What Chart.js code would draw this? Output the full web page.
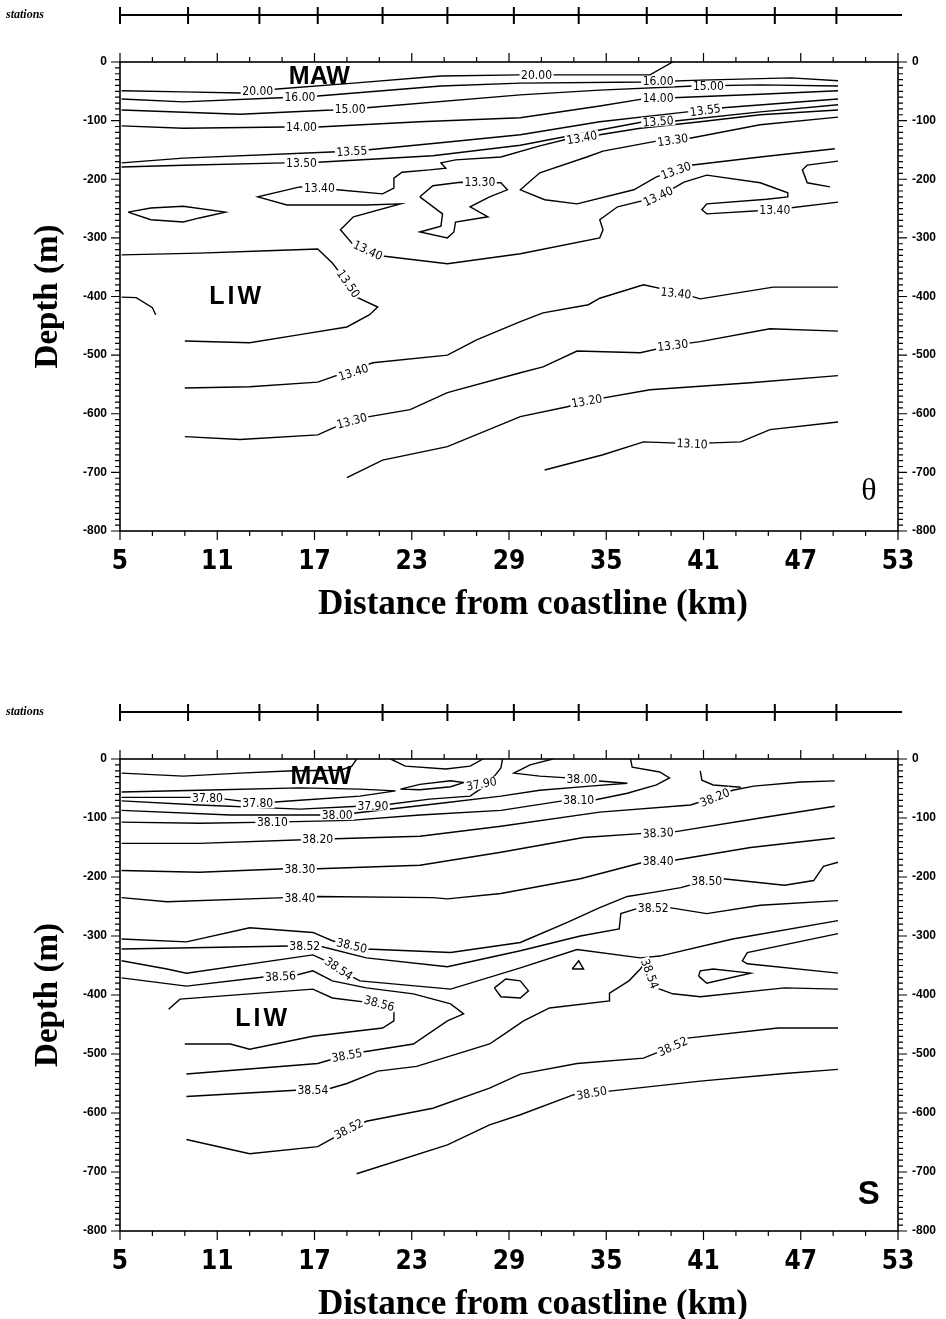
<!DOCTYPE html>
<html>
<head>
<meta charset="utf-8">
<script src="https://cdn.jsdelivr.net/npm/chart.js@4.4.1/dist/chart.umd.min.js"></script>
<style>
  html, body { margin: 0; padding: 0; background: #fff; }
  #wrap { position: relative; width: 946px; height: 1319px; }
  canvas { position: absolute; left: 0; }
</style>
</head>
<body>
<div id="wrap">
  <canvas id="thetaChart" width="946" height="660" style="top:0"></canvas>
  <canvas id="salChart" width="946" height="659" style="top:660px"></canvas>
</div>
<script>
// axis ticks and station positions (km from coastline, depth in m)
const kmTicks = [5, 11, 17, 23, 29, 35, 41, 47, 53];
const depthTicks = [0, -100, -200, -300, -400, -500, -600, -700, -800];
const stations = [5, 9.2, 13.6, 17.2, 21.2, 25.2, 29.3, 33.3, 37.5, 41.2, 45.4, 49.2];

// ---- potential temperature (theta) contours, [km, depth] ----
const th_20_00 = [[5.1,-49],[8.9,-51],[12.4,-53],[14.7,-46],[19.4,-36],[24.8,-24],[29.7,-22],[31.7,-22],[37.7,-22],[39.1,0]];
const th_16_00 = [[5.1,-63],[8.9,-68],[14.9,-61],[17.2,-58],[24.8,-41],[29.7,-36],[37.4,-34],[40.8,-31],[46.4,-27],[49.3,-32]];
const th_15_00 = [[5.1,-82],[12.4,-89],[18.1,-82],[20.2,-78],[29.7,-56],[34.6,-48],[40.4,-41],[44.5,-39],[49.3,-41]];
const th_14_00 = [[5.1,-109],[8.9,-113],[15.2,-111],[17.2,-111],[23.5,-102],[29.7,-95],[34.6,-75],[37.3,-63],[39.1,-61],[44.5,-55],[49.3,-49]];
const th_13_55 = [[5.1,-172],[8.9,-164],[18.4,-153],[20.2,-150],[25.4,-136],[29.7,-124],[34.6,-102],[40.0,-85],[42.2,-78],[49.3,-63]];
const th_13_50 = [[5.1,-179],[8.9,-176],[15.2,-172],[17.2,-171],[24.3,-160],[29.7,-142],[34.6,-116],[37.3,-102],[39.1,-101],[44.5,-85],[49.3,-73]];
const th_13_40a = [[49.3,-82],[44.5,-90],[40.8,-102],[37.1,-113],[34.6,-124],[32.8,-130],[30.9,-143],[28.5,-162],[25.7,-167],[24.8,-172],[25.1,-181],[24.1,-184],[22.4,-188],[21.9,-198],[21.9,-215],[21.2,-225],[18.4,-218],[16.1,-213],[13.5,-230],[15.3,-244],[20.2,-244],[22.3,-242],[19.4,-264],[18.6,-286],[19.4,-312],[21.2,-331],[25.2,-344],[29.7,-327],[34.6,-300],[34.8,-286],[34.6,-269],[35.7,-247],[38.2,-230],[39.8,-205],[41.2,-193],[44.5,-206],[46.2,-223],[46.2,-230],[44.9,-234],[41.2,-242],[40.9,-252],[41.2,-259],[45.4,-252],[49.3,-239]];
const th_13_30a = [[49.3,-94],[44.5,-107],[40.0,-131],[38.1,-135],[34.8,-152],[33.8,-162],[30.9,-189],[29.7,-218],[31.2,-235],[33.2,-242],[36.7,-218],[38.1,-196],[40.2,-176],[44.5,-162],[49.1,-148]];
const th_13_30patch = [[23.5,-230],[24.3,-211],[26.0,-205],[28.5,-206],[28.9,-218],[27.8,-230],[26.6,-247],[27.7,-264],[25.7,-273],[25.6,-290],[25.2,-300],[23.5,-290],[24.8,-280],[24.9,-259],[23.5,-230]];
const th_lens = [[5.5,-256],[6.9,-249],[8.9,-246],[11.5,-256],[9.9,-266],[8.9,-273],[6.9,-269],[5.5,-256]];
const th_bracket = [[49.3,-169],[47.4,-176],[47.1,-184],[47.4,-206],[48.8,-213]];
const th_13_50liw = [[5.1,-329],[9.9,-326],[14.1,-322],[17.2,-319],[18.1,-343],[19.0,-375],[19.6,-401],[20.9,-418],[20.4,-431],[19.0,-452],[16.1,-465],[13.0,-479],[9.0,-476]];
const th_arc = [[5.1,-401],[6.0,-402],[7.0,-419],[7.2,-431]];
const th_13_40b = [[9.0,-556],[13.0,-554],[17.2,-546],[20.6,-513],[25.2,-500],[27.0,-474],[29.7,-443],[31.1,-428],[33.9,-414],[34.6,-403],[37.3,-380],[39.3,-392],[40.8,-404],[45.3,-384],[49.3,-384]];
const th_13_30b = [[9.0,-639],[12.4,-644],[17.2,-636],[19.3,-610],[22.9,-593],[25.2,-564],[29.7,-530],[31.1,-520],[33.2,-493],[37.1,-496],[39.2,-483],[40.8,-477],[45.1,-455],[49.3,-459]];
const th_13_20 = [[19.0,-709],[21.2,-679],[25.2,-656],[29.7,-605],[32.6,-588],[33.8,-578],[37.7,-559],[43.9,-547],[49.3,-535]];
const th_13_10 = [[31.2,-696],[34.8,-670],[37.3,-648],[40.2,-651],[43.3,-648],[45.1,-627],[49.3,-614]];

const thetaLines = [th_20_00, th_16_00, th_15_00, th_14_00, th_13_55, th_13_50, th_13_40a, th_13_30a,
  th_13_30patch, th_lens, th_bracket, th_13_50liw, th_arc, th_13_40b, th_13_30b, th_13_20, th_13_10];

// [text, km, depth, angle]
const thetaLabels = [
  ["20.00",13.5,-50,0],["20.00",30.7,-22,0],["16.00",16.1,-60,0],["16.00",38.2,-33,0],
  ["15.00",19.2,-80,0],["15.00",41.3,-41,0],["14.00",16.2,-111,0],["14.00",38.2,-62,0],
  ["13.55",19.3,-152,-4],["13.55",41.1,-82,-8],["13.50",16.2,-172,0],["13.50",38.2,-101,-4],
  ["13.40",17.3,-215,0],["13.30",27.2,-205,0],["13.40",33.5,-129,-10],["13.30",39.1,-133,-8],
  ["13.30",39.3,-185,-20],["13.40",38.2,-229,-25],["13.40",45.4,-253,0],["13.40",20.3,-321,25],
  ["13.50",19.1,-378,55],["13.40",19.4,-529,-18],["13.30",19.3,-612,-15],["13.40",39.3,-394,6],
  ["13.30",39.1,-483,-6],["13.20",33.8,-578,-10],["13.10",40.3,-651,3]
];
const thetaNotes = [["MAW",17.3,-26,"mass"],["LIW",12.2,-401,"mass"],["\u03b8",51.2,-733,"sym"]];

// ---- salinity contours, [km, depth] ----
const s_u1 = [[5.1,-24],[8.9,-29],[12.4,-24],[15.7,-20],[18.6,-19],[19.3,-12],[19.6,0]];
const s_u2 = [[21.7,0],[22.6,-12],[25.1,-17],[26.6,-12],[27.4,0]];
const s_37_80 = [[5.1,-56],[9.9,-53],[16.1,-49],[19.8,-51],[22.0,-54],[19.8,-63],[16.1,-70],[13.5,-75],[11.5,-68],[9.9,-65],[5.1,-65]];
const s_lens = [[22.3,-51],[23.5,-43],[25.4,-37],[26.2,-40],[25.4,-47],[23.5,-52],[22.3,-51]];
const s_37_90 = [[5.1,-71],[9.9,-78],[16.1,-85],[19.7,-80],[21.5,-77],[24.1,-68],[26.6,-63],[27.5,-46],[28.1,-29],[28.5,-15],[28.6,0]];
const s_38_00 = [[5.1,-87],[11.8,-95],[18.4,-95],[19.4,-92],[24.8,-75],[28.5,-63],[30.9,-53],[34.0,-46],[36.3,-41],[34.0,-36],[32.6,-32],[30.9,-29],[29.3,-24],[30.3,-10],[31.7,0]];
const s_38_10 = [[5.1,-107],[9.9,-109],[14.4,-107],[19.2,-104],[23.5,-95],[28.5,-87],[32.3,-71],[34.2,-70],[36.3,-58],[38.1,-44],[38.9,-32],[38.3,-22],[36.6,-14],[36.5,0]];
const s_38_20 = [[5.1,-143],[9.9,-143],[17.2,-136],[23.5,-131],[28.5,-114],[34.6,-90],[40.2,-78],[41.7,-65],[42.8,-53],[44.1,-46],[47.0,-39],[49.1,-37]];
const s_hook = [[40.8,-20],[40.9,-36],[41.6,-44],[43.3,-48]];
const s_38_30 = [[5.1,-189],[9.9,-192],[15.2,-186],[17.2,-186],[23.5,-180],[28.5,-158],[33.6,-133],[37.3,-126],[39.1,-124],[44.5,-100],[49.1,-80]];
const s_38_40 = [[5.1,-235],[7.9,-242],[15.2,-235],[17.2,-233],[24.3,-235],[25.2,-237],[28.5,-228],[33.4,-203],[37.3,-175],[39.1,-172],[43.9,-150],[49.1,-134]];
const s_38_50a = [[5.1,-305],[9.1,-310],[13.0,-286],[16.9,-294],[18.1,-308],[20.2,-322],[25.4,-328],[29.7,-311],[32.6,-277],[34.6,-252],[36.3,-233],[37.9,-226],[39.6,-218],[41.2,-206],[42.2,-203],[46.0,-214],[47.8,-206],[48.4,-182],[49.3,-175]];
const s_38_52a = [[5.1,-322],[15.5,-317],[17.3,-317],[20.2,-337],[25.2,-352],[29.7,-325],[33.4,-300],[35.8,-288],[35.9,-262],[37.1,-252],[38.9,-252],[41.2,-262],[44.5,-248],[49.3,-240]];
const s_38_54a = [[5.1,-342],[7.9,-356],[9.1,-363],[16.9,-332],[18.0,-346],[18.9,-363],[19.8,-376],[25.4,-390],[29.7,-354],[33.2,-323],[37.1,-337],[38.3,-334],[42.8,-305],[49.3,-274]];
const s_38_56 = [[5.1,-371],[9.1,-385],[14.0,-369],[15.9,-366],[16.9,-359],[18.1,-376],[20.2,-388],[23.1,-398],[25.4,-415],[26.2,-432],[25.2,-444],[23.1,-483],[19.2,-500],[17.2,-516],[9.1,-534]];
const s_liw = [[8.0,-424],[8.7,-407],[16.9,-390],[18.1,-405],[21.0,-415],[21.9,-424],[21.9,-444],[21.2,-456],[16.9,-470],[13.0,-492],[11.8,-483],[9.0,-483]];
const s_38_54b = [[9.1,-572],[18.0,-558],[19.0,-550],[20.9,-529],[23.3,-521],[27.8,-483],[28.5,-470],[29.9,-444],[31.5,-422],[35.2,-410],[35.2,-397],[36.4,-376],[37.1,-356],[37.4,-346],[37.7,-364],[38.1,-388],[39.1,-398],[40.8,-403],[46.0,-388],[49.3,-390]];
const s_38_52b = [[9.1,-645],[13.0,-669],[17.2,-657],[19.1,-628],[20.2,-614],[24.3,-592],[27.8,-558],[29.7,-534],[33.2,-516],[37.3,-507],[39.1,-487],[40.0,-473],[45.6,-456],[49.3,-456]];
const s_38_50b = [[19.6,-703],[25.2,-654],[27.8,-620],[29.7,-603],[33.0,-569],[35.2,-563],[40.8,-546],[46.0,-533],[49.3,-526]];
const s_loop = [[28.1,-388],[28.8,-373],[29.7,-376],[30.2,-393],[29.7,-405],[28.5,-403],[28.1,-388]];
const s_tri = [[32.9,-356],[33.3,-342],[33.6,-356],[32.9,-356]];
const s_lens2 = [[40.7,-368],[40.8,-359],[41.6,-356],[43.9,-363],[41.2,-380],[40.7,-368]];
const s_tongue = [[49.3,-296],[43.7,-328],[43.4,-342],[43.7,-347],[49.3,-363]];

const salLines = [s_u1, s_u2, s_37_80, s_lens, s_37_90, s_38_00, s_38_10, s_38_20, s_hook, s_38_30, s_38_40,
  s_38_50a, s_38_52a, s_38_54a, s_38_56, s_liw, s_38_54b, s_38_52b, s_38_50b, s_loop, s_tri, s_lens2, s_tongue];

const salLabels = [
  ["37.80",10.4,-66,0],["37.80",13.5,-75,0],["37.90",20.6,-79,0],["37.90",27.3,-42,-10],
  ["38.00",18.4,-95,0],["38.00",33.5,-33,0],["38.10",14.4,-107,0],["38.10",33.3,-70,0],
  ["38.20",17.2,-136,0],["38.20",41.7,-65,-22],["38.30",16.1,-186,0],["38.30",38.2,-125,-3],
  ["38.40",16.1,-235,0],["38.40",38.2,-173,0],["38.50",41.2,-206,0],["38.52",37.9,-252,0],
  ["38.52",16.4,-317,0],["38.50",19.3,-316,13],["38.54",18.5,-355,34],["38.56",14.9,-368,-3],
  ["38.56",21.0,-414,15],["38.55",19.0,-502,-10],["38.54",16.9,-560,0],["38.52",19.1,-627,-27],
  ["38.54",37.7,-364,70],["38.52",39.1,-487,-24],["38.50",34.1,-566,-10]
];
const salNotes = [["MAW",17.4,-31,"mass"],["LIW",13.8,-441,"mass"],["S",51.2,-739,"symB"]];

const narrow = "'Liberation Sans Narrow', 'DejaVu Sans Condensed', sans-serif";
const noteFonts = {
  mass: "bold 25px 'Liberation Sans', sans-serif",
  sym: "32px 'Liberation Serif', serif",
  symB: "bold 33px 'Liberation Sans', sans-serif"
};

function panelPlugin(labels, notes) {
  return {
    id: 'panelExtras',
    afterDatasetsDraw(chart) {
      const {ctx, scales: {x, y}} = chart;
      ctx.save();
      ctx.font = "12px " + narrow;
      ctx.textAlign = 'center';
      ctx.textBaseline = 'middle';
      labels.forEach(([t, km, d, ang]) => {
        const px = x.getPixelForValue(km), py = y.getPixelForValue(d);
        const w = ctx.measureText(t).width + 3;
        ctx.save();
        ctx.translate(px, py);
        ctx.rotate(ang * Math.PI / 180);
        ctx.fillStyle = '#fff';
        ctx.fillRect(-w / 2, -5, w, 10);
        ctx.fillStyle = '#000';
        ctx.fillText(t, 0, 1);
        ctx.restore();
      });
      notes.forEach(([t, km, d, key]) => {
        ctx.font = noteFonts[key];
        ctx.letterSpacing = t === 'LIW' ? '3px' : '0px';
        ctx.fillStyle = '#000';
        ctx.fillText(t, x.getPixelForValue(km), y.getPixelForValue(d));
      });
      ctx.restore();
    },
    afterDraw(chart) {
      const {ctx, chartArea: a, scales: {x, y}} = chart;
      ctx.save();
      ctx.strokeStyle = '#000';
      // frame
      ctx.lineWidth = 1.6;
      ctx.strokeRect(a.left, a.top, a.right - a.left, a.bottom - a.top);
      // ticks, pointing outwards
      ctx.lineWidth = 1.2;
      ctx.beginPath();
      for (let v = 5; v <= 53; v += 2) {
        const px = x.getPixelForValue(v);
        const len = (v - 5) % 6 === 0 ? 9 : 5;
        ctx.moveTo(px, a.bottom); ctx.lineTo(px, a.bottom + len);
        ctx.moveTo(px, a.top); ctx.lineTo(px, a.top - len);
      }
      for (let v = 0; v >= -800; v -= 10) {
        const py = y.getPixelForValue(v);
        const len = v % 100 === 0 ? 9 : 5;
        ctx.moveTo(a.left, py); ctx.lineTo(a.left - len, py);
        ctx.moveTo(a.right, py); ctx.lineTo(a.right + len, py);
      }
      ctx.stroke();

      // station bar
      const sy = a.top - 47;
      ctx.lineWidth = 2;
      ctx.beginPath();
      ctx.moveTo(x.getPixelForValue(stations[0]), sy);
      ctx.lineTo(a.right + 4, sy);
      stations.forEach(s => {
        const px = x.getPixelForValue(s);
        ctx.moveTo(px, sy - 8); ctx.lineTo(px, sy + 9);
      });
      ctx.stroke();
      ctx.fillStyle = '#000';
      ctx.font = "italic bold 12px 'Liberation Serif', serif";
      ctx.textAlign = 'left';
      ctx.textBaseline = 'middle';
      ctx.fillText('stations', 6, sy);

      // axis titles
      ctx.font = "bold 35px 'Liberation Serif', serif";
      ctx.textAlign = 'center';
      ctx.fillText('Distance from coastline (km)', (a.left + a.right) / 2 + 24, a.bottom + 74);
      ctx.save();
      ctx.translate(48, (a.top + a.bottom) / 2);
      ctx.rotate(-Math.PI / 2);
      ctx.font = "bold 33px 'Liberation Serif', serif";
      ctx.fillText('Depth (m)', 0, 0);
      ctx.restore();
      ctx.restore();
    }
  };
}

function drawPanel(id, lines, labels, notes, top, bottom) {
  const canvas = document.getElementById(id);
  const H = canvas.height;
  const depthAxis = (pos, width, pad) => ({
    type: 'linear', position: pos, min: -800, max: 0,
    afterBuildTicks: s => { s.ticks = depthTicks.map(v => ({value: v})); },
    afterFit: s => { s.width = width; },
    grid: {display: false, drawTicks: false},
    border: {display: false},
    ticks: {padding: pad, color: '#000', autoSkip: false,
      font: {family: "'Liberation Sans', sans-serif", weight: 'bold', size: 12}}
  });
  return new Chart(canvas.getContext('2d'), {
    type: 'scatter',
    data: {
      datasets: lines.map(pts => ({
        data: pts.map(p => ({x: p[0], y: p[1]})),
        showLine: true,
        borderColor: '#000',
        borderWidth: 1.4,
        pointRadius: 0,
        fill: false,
        tension: 0,
        xAxisID: 'x',
        yAxisID: 'y'
      }))
    },
    options: {
      responsive: false,
      animation: false,
      devicePixelRatio: 1,
      events: [],
      layout: {padding: 0},
      plugins: {legend: {display: false}, tooltip: {enabled: false}},
      scales: {
        x: {
          type: 'linear', position: 'bottom', min: 5, max: 53,
          afterBuildTicks: s => { s.ticks = kmTicks.map(v => ({value: v})); },
          afterFit: s => { s.height = H - bottom; },
          grid: {display: false, drawTicks: false},
          border: {display: false},
          ticks: {padding: 16, color: '#000', maxRotation: 0, autoSkip: false,
            font: {family: narrow, weight: 'bold', size: 26}}
        },
        xTop: {
          type: 'linear', position: 'top', min: 5, max: 53,
          afterFit: s => { s.height = top; },
          grid: {display: false, drawTicks: false},
          border: {display: false},
          ticks: {display: false}
        },
        y: depthAxis('left', 120, 13),
        yRight: depthAxis('right', 48, 14)
      }
    },
    plugins: [panelPlugin(labels, notes)]
  });
}

drawPanel('thetaChart', thetaLines, thetaLabels, thetaNotes, 62, 531);
drawPanel('salChart', salLines, salLabels, salNotes, 99, 571);
</script>
</body>
</html>
